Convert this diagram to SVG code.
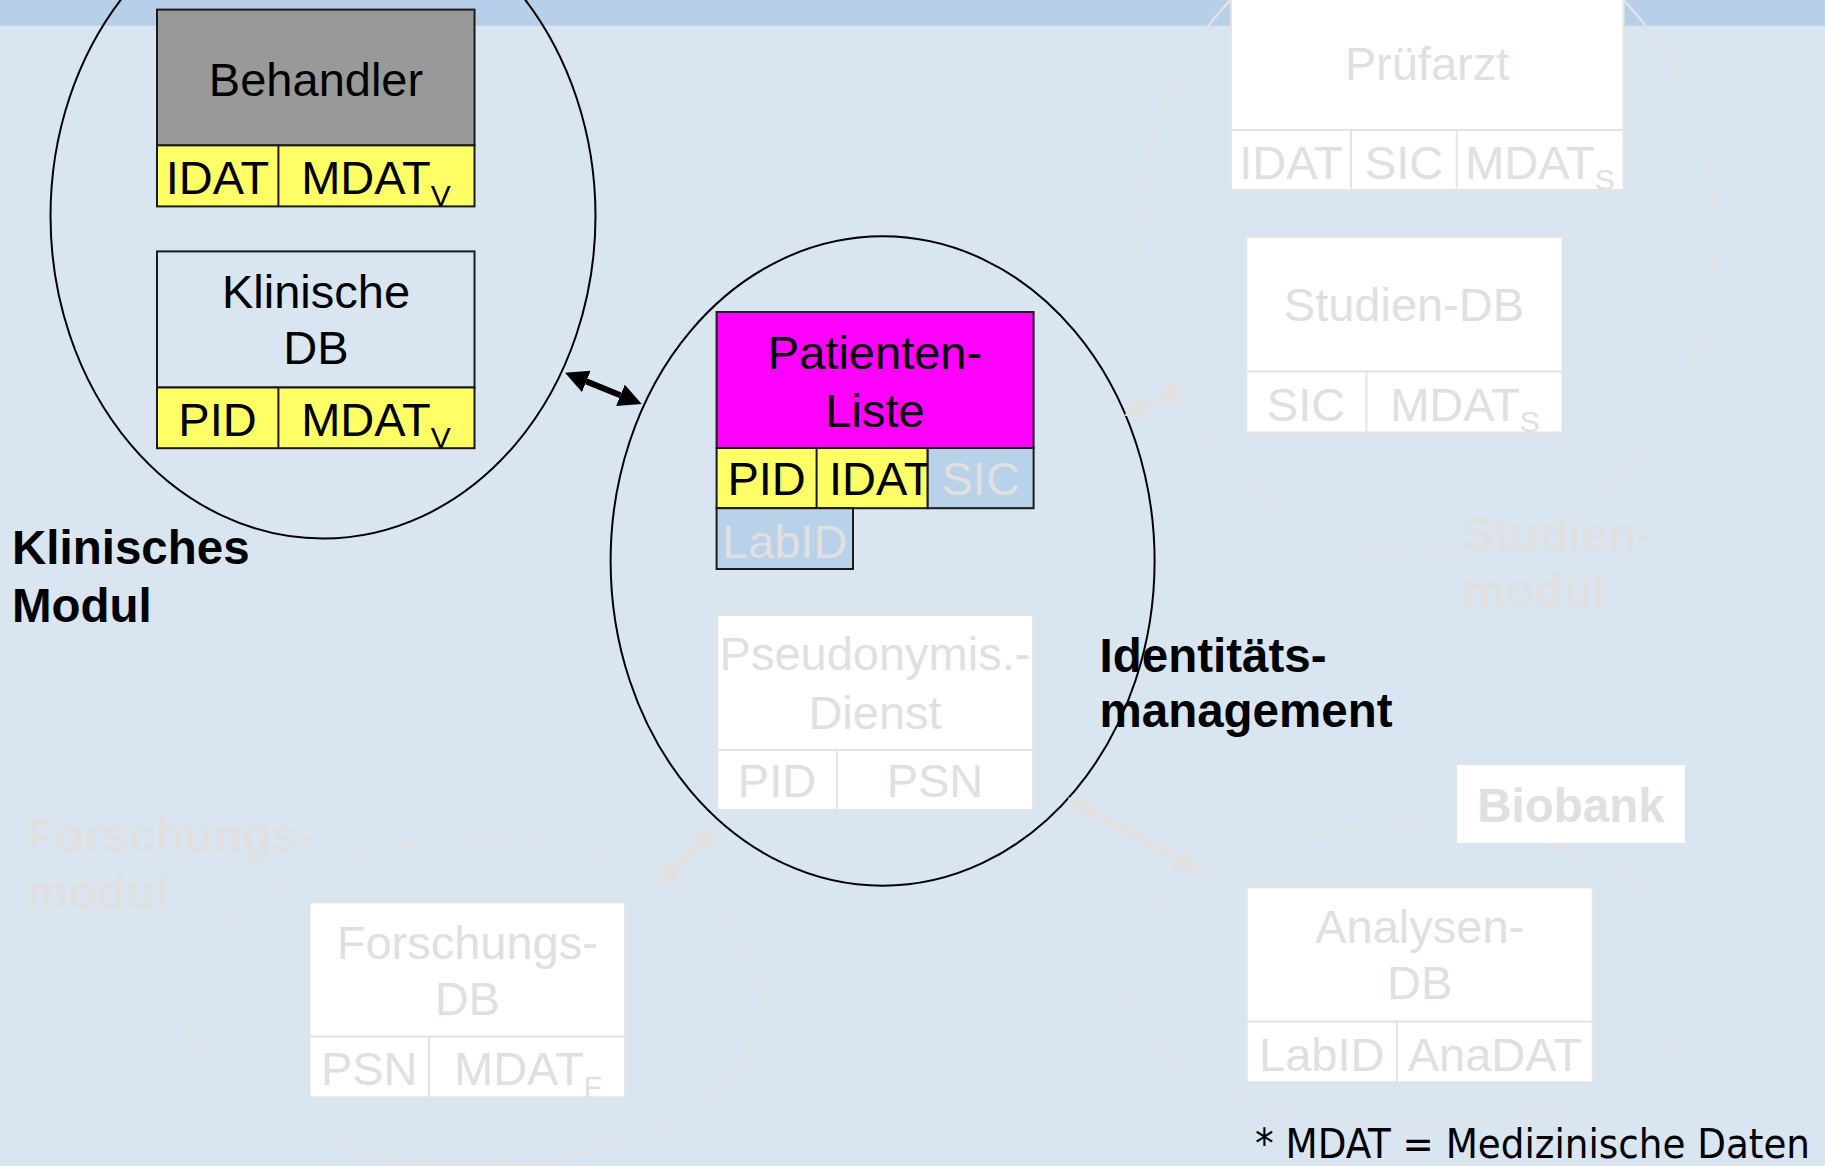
<svg xmlns="http://www.w3.org/2000/svg" width="1825" height="1166" viewBox="0 0 1825 1166">
  <style>
    .t{font-family:"Liberation Sans",Arial,sans-serif;font-size:47px;fill:#000}
    .c{text-anchor:middle}
    .sub{font-size:30px}
    .lbl{font-family:"Liberation Sans",Arial,sans-serif;font-weight:bold;font-size:47.5px;fill:#000}
    .fade{fill:#e0e0e0}
    .box{stroke:#1a1a1a;stroke-width:2}
    .fbox{fill:#fff;stroke:#e4e4e4;stroke-width:2}
    .fline{stroke:#e4e4e4;stroke-width:2}
    .ring{fill:none;stroke:#000;stroke-width:2}
    .fring{fill:none;stroke:#e3e3e3;stroke-width:2.5}
    .yel{fill:#ffff66}
    .blu{fill:#b9d1e9}
  </style>
  <defs>
    <marker id="headBlack" markerUnits="userSpaceOnUse" viewBox="0 0 23 23" markerWidth="23" markerHeight="23" refX="0" refY="11.5" orient="auto-start-reverse">
      <path d="M0,0 L23,11.5 L0,23 Z" fill="#000"/>
    </marker>
    <marker id="headFade" markerUnits="userSpaceOnUse" viewBox="0 0 22 26" markerWidth="22" markerHeight="26" refX="0" refY="13" orient="auto-start-reverse">
      <path d="M0,0 L22,13 L0,26 Z" fill="#e1e1e1"/>
    </marker>
  </defs>

  <!-- slide background and title band -->
  <rect x="0" y="0" width="1825" height="1166" fill="#d9e5f0"/>
  <rect x="0" y="0" width="1825" height="25.7" fill="#b7cfe8"/>

  <!-- module outlines -->
  <g id="studienmodul">
    <ellipse class="fring" cx="1427" cy="234" rx="288" ry="320"/>
    <text class="lbl fade" x="1463" y="551">Studien-</text>
    <text class="lbl fade" x="1463" y="607">modul</text>
  </g>
  <g id="forschungsmodul">
    <ellipse class="fring" cx="474" cy="1003" rx="288" ry="162"/>
    <text class="lbl fade" x="26" y="852">Forschungs-</text>
    <text class="lbl fade" x="26" y="909">modul</text>
  </g>
  <g id="biobank">
    <ellipse class="fring" cx="1412" cy="977" rx="288" ry="151"/>
    <rect x="1457" y="765" width="228" height="78" fill="#fff"/>
    <text class="lbl fade c" x="1571" y="822">Biobank</text>
  </g>
  <g id="klinisches-modul">
    <ellipse class="ring" cx="323" cy="216" rx="272.5" ry="322.5"/>
    <text class="lbl" x="12" y="564">Klinisches</text>
    <text class="lbl" x="12" y="622">Modul</text>
  </g>
  <g id="identitaetsmanagement">
    <ellipse class="ring" cx="882.6" cy="561" rx="272" ry="324.7"/>
    <text class="lbl" x="1099.5" y="672">Identitäts-</text>
    <text class="lbl" x="1099.5" y="727">management</text>
  </g>

  <!-- Behandler -->
  <g id="behandler">
    <rect class="box" x="157" y="9.6" width="317.5" height="135.8" fill="#999999"/>
    <rect class="box yel" x="157" y="145.4" width="317.5" height="61"/>
    <line class="box" x1="278.4" y1="145.4" x2="278.4" y2="206.4"/>
    <text class="t c" x="316" y="96">Behandler</text>
    <text class="t c" x="217.5" y="194">IDAT</text>
    <text class="t c" x="376" y="194">MDAT<tspan class="sub" dy="12">V</tspan></text>
  </g>

  <!-- Klinische DB -->
  <g id="klinische-db">
    <rect class="box" x="157" y="251.4" width="317.5" height="136.1" fill="none"/>
    <rect class="box yel" x="157" y="387.5" width="317.5" height="60.7"/>
    <line class="box" x1="278.4" y1="387.5" x2="278.4" y2="448.2"/>
    <text class="t c" x="316" y="308">Klinische</text>
    <text class="t c" x="316" y="364">DB</text>
    <text class="t c" x="217.5" y="435.5">PID</text>
    <text class="t c" x="376" y="435.5">MDAT<tspan class="sub" dy="12">V</tspan></text>
  </g>

  <!-- Patienten-Liste -->
  <g id="patienten-liste">
    <rect class="box" x="716.6" y="312" width="317" height="136" fill="#ff00ff"/>
    <rect class="box yel" x="716.6" y="448" width="211.1" height="60.2"/>
    <line class="box" x1="816.6" y1="448" x2="816.6" y2="508.2"/>
    <text class="t c" x="875" y="369">Patienten-</text>
    <text class="t c" x="875" y="426.6">Liste</text>
    <text class="t c" x="766.6" y="495">PID</text>
    <text class="t" x="829" y="495">IDAT</text>
    <rect class="box blu" x="927.7" y="448" width="105.9" height="60.2"/>
    <text class="t c fade" x="980.7" y="495">SIC</text>
    <rect class="box blu" x="716.6" y="508.2" width="136.4" height="60.8"/>
    <text class="t c fade" x="784.8" y="557.5">LabID</text>
  </g>

  <!-- Pseudonymisierungsdienst -->
  <g id="pseudonymisierungsdienst">
    <rect class="fbox" x="717.4" y="615" width="315.6" height="135"/>
    <rect class="fbox" x="717.4" y="750" width="315.6" height="60"/>
    <line class="fline" x1="837" y1="750" x2="837" y2="810"/>
    <text class="t c fade" x="875" y="670">Pseudonymis.-</text>
    <text class="t c fade" x="875" y="729">Dienst</text>
    <text class="t c fade" x="777" y="797">PID</text>
    <text class="t c fade" x="935" y="797">PSN</text>
  </g>

  <!-- Pruefarzt -->
  <g id="pruefarzt">
    <rect class="fbox" x="1231" y="-5" width="392.6" height="135"/>
    <rect class="fbox" x="1231" y="130" width="392.6" height="60"/>
    <line class="fline" x1="1351" y1="130" x2="1351" y2="190"/>
    <line class="fline" x1="1456.7" y1="130" x2="1456.7" y2="190"/>
    <text class="t c fade" x="1427" y="80.4">Prüfarzt</text>
    <text class="t c fade" x="1291" y="179">IDAT</text>
    <text class="t c fade" x="1404" y="179">SIC</text>
    <text class="t c fade" x="1540" y="179">MDAT<tspan class="sub" dy="11">S</tspan></text>
  </g>

  <!-- Studien-DB -->
  <g id="studien-db">
    <rect class="fbox" x="1246.3" y="237" width="316.1" height="134.6"/>
    <rect class="fbox" x="1246.3" y="371.6" width="316.1" height="60.9"/>
    <line class="fline" x1="1366.4" y1="371.6" x2="1366.4" y2="432.5"/>
    <text class="t c fade" x="1404" y="320.7">Studien-DB</text>
    <text class="t c fade" x="1306" y="421">SIC</text>
    <text class="t c fade" x="1465" y="421">MDAT<tspan class="sub" dy="11">S</tspan></text>
  </g>

  <!-- Forschungs-DB -->
  <g id="forschungs-db">
    <rect class="fbox" x="309.6" y="902.3" width="315.4" height="134.4"/>
    <rect class="fbox" x="309.6" y="1036.7" width="315.4" height="60.6"/>
    <line class="fline" x1="428.8" y1="1036.7" x2="428.8" y2="1097.3"/>
    <text class="t c fade" x="467.3" y="959">Forschungs-</text>
    <text class="t c fade" x="467.3" y="1015">DB</text>
    <text class="t c fade" x="369.2" y="1085">PSN</text>
    <text class="t c fade" x="528" y="1085">MDAT<tspan class="sub" dy="12">F</tspan></text>
  </g>

  <!-- Analysen-DB -->
  <g id="analysen-db">
    <rect class="fbox" x="1246.7" y="887.3" width="346" height="134.4"/>
    <rect class="fbox" x="1246.7" y="1021.7" width="346" height="60.6"/>
    <line class="fline" x1="1397" y1="1021.7" x2="1397" y2="1082.3"/>
    <text class="t c fade" x="1419.7" y="943.3">Analysen-</text>
    <text class="t c fade" x="1419.7" y="999.3">DB</text>
    <text class="t c fade" x="1321.8" y="1071">LabID</text>
    <text class="t c fade" x="1494.8" y="1071">AnaDAT</text>
  </g>

  <!-- connectors between modules -->
  <g id="connectors" fill="none">
    <line x1="586.3" y1="381.4" x2="620.4" y2="395.3" stroke="#000" stroke-width="6" marker-start="url(#headBlack)" marker-end="url(#headBlack)"/>
    <line x1="1144.2" y1="406.6" x2="1165.8" y2="396.7" stroke="#e1e1e1" stroke-width="7" marker-start="url(#headFade)" marker-end="url(#headFade)"/>
    <line x1="672.9" y1="869.5" x2="700.4" y2="842.2" stroke="#e1e1e1" stroke-width="8" marker-start="url(#headFade)" marker-end="url(#headFade)"/>
    <line x1="1086.9" y1="808.4" x2="1179.1" y2="860" stroke="#e1e1e1" stroke-width="8" marker-start="url(#headFade)" marker-end="url(#headFade)"/>
  </g>

  <!-- footnote -->
  <text x="1255" y="1158" font-family="'DejaVu Sans Condensed','Liberation Sans Narrow','Liberation Sans',sans-serif" font-size="41" fill="#000" textLength="555" lengthAdjust="spacingAndGlyphs">* MDAT = Medizinische Daten</text>
</svg>
